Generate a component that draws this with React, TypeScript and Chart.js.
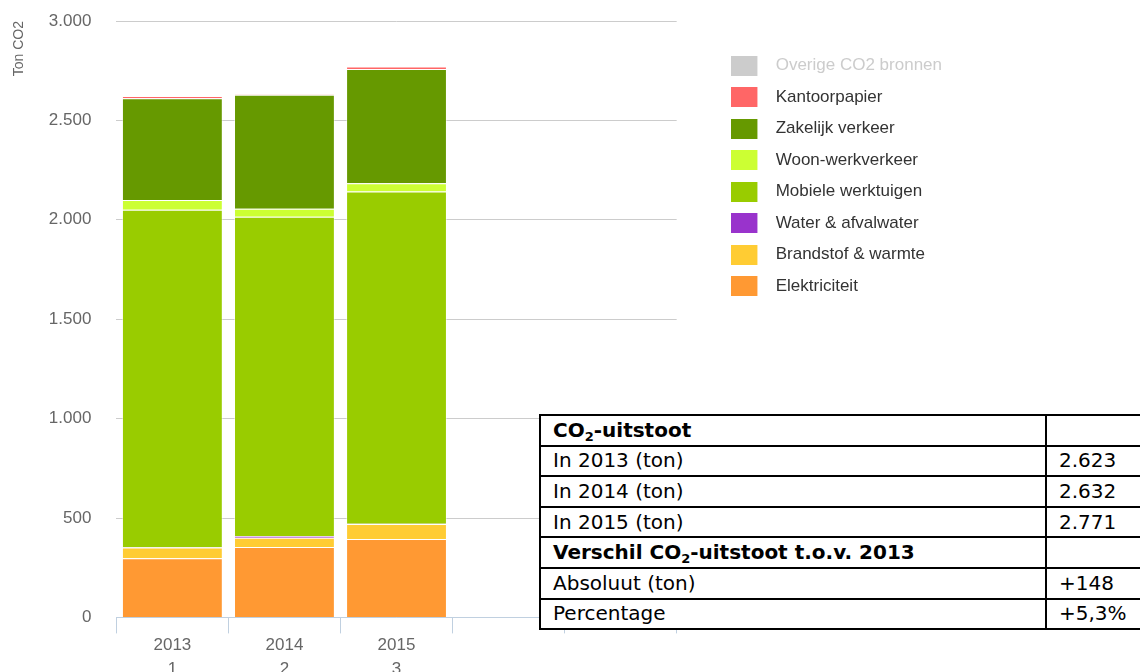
import React, { useEffect, useRef } from "react";
import { Chart, registerables } from "chart.js";

Chart.register(...registerables);

const categories = ["2013", "2014", "2015", "", ""];
const subLabels = ["1", "2", "3", "", ""];

const elektriciteit = [297, 354, 394];
const brandstof = [55, 47, 76];
const water = [1, 9, 1];
const mobiele = [1698, 1605, 1671];
const woonwerk = [48, 40, 42];
const zakelijk = [512, 574, 575];
const kantoorpapier = [12, 3, 12];
const overige = [0, 0, 0];

const yTicks = { min: 0, max: 3000, step: 500 };

const tableRows = [
  "header1",
  "In 2013 (ton)",
  "In 2014 (ton)",
  "In 2015 (ton)",
  "header2",
  "Absoluut (ton)",
  "Percentage",
];
const tableValues = ["", "2.623", "2.632", "2.771", "", "+148", "+5,3%"];

const FONT = "'Liberation Sans', Arial, sans-serif";

const fmt = (v: number) => String(v).replace(/\B(?=(\d{3})+(?!\d))/g, ".");

const makeSwatch = (color: string) => {
  const c = document.createElement("canvas");
  c.width = 36;
  c.height = 20;
  const g = c.getContext("2d");
  if (g) {
    g.fillStyle = color;
    g.fillRect(0, 0, 26, 20);
  }
  return c;
};

export default function App() {
  const ref = useRef<HTMLCanvasElement | null>(null);

  useEffect(() => {
    if (!ref.current) return;
    const series = [
      { label: "Elektriciteit", data: elektriciteit, color: "#FF9933" },
      { label: "Brandstof & warmte", data: brandstof, color: "#FFCC33" },
      { label: "Water & afvalwater", data: water, color: "#9933CC" },
      { label: "Mobiele werktuigen", data: mobiele, color: "#99CC00" },
      { label: "Woon-werkverkeer", data: woonwerk, color: "#CCFF33" },
      { label: "Zakelijk verkeer", data: zakelijk, color: "#669900" },
      { label: "Kantoorpapier", data: kantoorpapier, color: "#FF6666" },
      { label: "Overige CO2 bronnen", data: overige, color: "#CCCCCC" },
    ];
    const swatches = series.map((s) => makeSwatch(s.color));
    const chart = new Chart(ref.current, {
      type: "bar",
      data: {
        labels: categories.map((c, i) => (c ? [c, subLabels[i]] : "")),
        datasets: series.map((s) => ({
          label: s.label,
          data: s.data,
          backgroundColor: s.color,
          borderColor: "rgba(255,255,255,0.45)",
          borderWidth: 1,
          barPercentage: 0.9,
          categoryPercentage: 1,
        })),
      },
      options: {
        animation: false,
        responsive: true,
        maintainAspectRatio: false,
        layout: { padding: { top: 13, right: 16, left: 1, bottom: 0 } },
        plugins: {
          tooltip: { enabled: false },
          legend: {
            position: "right",
            align: "start",
            fullSize: false,
            reverse: true,
            maxWidth: 340,
            title: { display: true, text: " ", font: { size: 10, lineHeight: 1 }, padding: { top: 11.5, bottom: 0 } },
            labels: {
              usePointStyle: true,
              pointStyleWidth: 35.5,
              boxHeight: 17,
              padding: 14.5,
              color: "#333333",
              font: { family: FONT, size: 17 },
              generateLabels: (ch: any) => {
                const items = Chart.defaults.plugins.legend.labels.generateLabels(ch);
                return items.map((it: any) => ({
                  ...it,
                  hidden: false,
                  pointStyle: swatches[it.datasetIndex],
                  lineWidth: 0,
                  fontColor: it.text === "Overige CO2 bronnen" ? "#CCCCCC" : "#333333",
                }));
              },
            },
          },
        },
        scales: {
          x: {
            stacked: true,
            grid: {
              display: true,
              offset: true,
              drawOnChartArea: false,
              drawTicks: true,
              tickLength: 16,
              color: "#C0D0E0",
            },
            border: { display: true, color: "#C0D0E0" },
            ticks: {
              color: "#666666",
              font: { family: FONT, size: 17, lineHeight: 1.4 },
              padding: 0,
              maxRotation: 0,
              autoSkip: false,
            },
          },
          y: {
            stacked: true,
            min: yTicks.min,
            max: yTicks.max,
            grid: { color: "#CCCCCC", drawTicks: true, tickLength: 25, tickColor: "rgba(0,0,0,0)" },
            border: { display: false },
            ticks: {
              stepSize: yTicks.step,
              color: "#666666",
              padding: 0,
              font: { family: FONT, size: 17 },
              callback: (v: any) => fmt(Number(v)),
            },
            title: {
              display: true,
              text: "Ton CO2",
              align: "end",
              color: "#666666",
              font: { family: FONT, size: 14 },
              padding: { top: 2, bottom: 21 },
            },
          },
          yR: {
            type: "linear",
            position: "right",
            display: true,
            grid: { display: false },
            border: { display: false },
            ticks: { display: false },
            afterFit: (s: any) => {
              s.width = 40.5;
            },
          },
        },
      } as any,
    });
    return () => chart.destroy();
  }, []);

  const cell: React.CSSProperties = {
    border: "2px solid #000",
    padding: "0 12px",
    height: 28.6,
    fontFamily: "'DejaVu Sans', Verdana, sans-serif",
    fontSize: 20,
    lineHeight: "27px",
    color: "#000",
    whiteSpace: "nowrap",
  };
  const sub: React.CSSProperties = { fontSize: 13, lineHeight: 0, verticalAlign: "-4px" };

  const renderLabel = (r: string) => {
    if (r === "header1")
      return (
        <b>
          CO<sub style={sub}>2</sub>-uitstoot
        </b>
      );
    if (r === "header2")
      return (
        <b>
          Verschil CO<sub style={sub}>2</sub>-uitstoot t.o.v. 2013
        </b>
      );
    return r;
  };

  return (
    <div style={{ position: "relative", width: 1140, height: 664, overflow: "hidden" }}>
      <div style={{ position: "absolute", left: 0, top: 0, width: 960, height: 673 }}>
        <canvas ref={ref} />
      </div>
      <table
        style={{
          position: "absolute",
          left: 531,
          top: 406,
          width: 608,
          borderCollapse: "collapse",
          background: "#fff",
        }}
      >
        <tbody>
          {tableRows.map((r, i) => (
            <tr key={i}>
              <td style={{ ...cell, width: 480 }}>{renderLabel(r)}</td>
              <td style={cell}>{tableValues[i]}</td>
            </tr>
          ))}
        </tbody>
      </table>
    </div>
  );
}
